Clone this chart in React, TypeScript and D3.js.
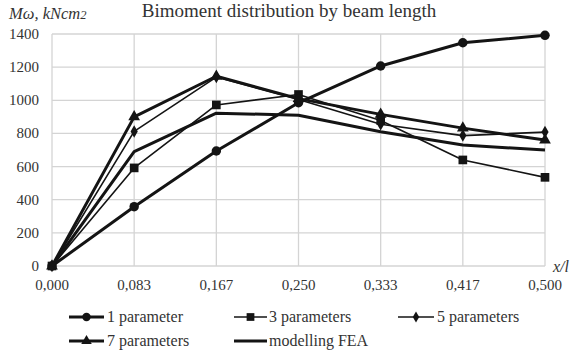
import React from "react";
import * as d3 from "d3";

const categories = ["0,000", "0,083", "0,167", "0,250", "0,333", "0,417", "0,500"];
const yTicks = [0, 200, 400, 600, 800, 1000, 1200, 1400];

const param1 = [0, 358, 694, 985, 1207, 1347, 1392];
const param3 = [0, 592, 972, 1035, 878, 640, 535];
const param5 = [0, 812, 1140, 1005, 855, 787, 808];
const param7 = [0, 900, 1145, 1010, 915, 832, 760];
const fea = [0, 690, 922, 910, 810, 730, 700];

type Marker = "circle" | "square" | "diamond" | "triangle" | "none";
interface Series { name: string; values: number[]; marker: Marker; width: number; }

const series: Series[] = [
  { name: "1 parameter", values: param1, marker: "circle", width: 3 },
  { name: "3 parameters", values: param3, marker: "square", width: 1.6 },
  { name: "5 parameters", values: param5, marker: "diamond", width: 1.6 },
  { name: "7 parameters", values: param7, marker: "triangle", width: 3 },
  { name: "modelling FEA", values: fea, marker: "none", width: 3 },
];

const W = 577, H = 356;
const ink = "#141414";
const font = "'Liberation Serif', 'Times New Roman', serif";

const x = d3.scalePoint<string>().domain(categories).range([52, 545]);
const y = d3.scaleLinear().domain([0, 1400]).range([266, 34]);

function markerPath(m: Marker, scale = 1): string | null {
  const sym = d3.symbol();
  if (m === "circle") return sym.type(d3.symbolCircle).size(70 * scale)();
  if (m === "square") return sym.type(d3.symbolSquare).size(75 * scale)();
  if (m === "diamond") return sym.type(d3.symbolDiamond).size(45 * scale)();
  if (m === "triangle") return sym.type(d3.symbolTriangle).size(60 * scale)();
  return null;
}

const legendItems = [
  { s: series[0], lx: 69, lx2: 104, tx: 107, ty: 322 },
  { s: series[1], lx: 234, lx2: 267, tx: 269, ty: 322 },
  { s: series[2], lx: 398, lx2: 434, tx: 437, ty: 322 },
  { s: series[3], lx: 69, lx2: 104, tx: 107, ty: 346 },
  { s: series[4], lx: 234, lx2: 267, tx: 269, ty: 346 },
];

export default function App() {
  const line = d3
    .line<number>()
    .x((_, i) => x(categories[i]) as number)
    .y((v) => y(v));

  return (
    <svg width={W} height={H} style={{ position: "absolute", left: 0, top: 0, background: "#fff" }}>
      <rect width={W} height={H} fill="#fff" />
      {/* grid */}
      {yTicks.map((t) => (
        <line key={"h" + t} x1={x(categories[0])} x2={x(categories[categories.length - 1])} y1={y(t)} y2={y(t)} stroke="#d4d4d4" strokeWidth={1.3} />
      ))}
      {categories.map((c) => (
        <line key={"v" + c} x1={x(c)} x2={x(c)} y1={y(0)} y2={y(1400)} stroke="#d4d4d4" strokeWidth={1.3} />
      ))}
      {/* y tick labels */}
      {yTicks.map((t) => (
        <text key={"yl" + t} x={39} y={y(t) + 5} textAnchor="end" fontFamily={font} fontSize={15} fill="#333">{t}</text>
      ))}
      {/* x tick labels */}
      {categories.map((c) => (
        <text key={"xl" + c} x={x(c)} y={290} textAnchor="middle" fontFamily={font} fontSize={15} fill="#333">{c}</text>
      ))}
      {/* titles */}
      <text x={289} y={17} textAnchor="middle" fontFamily={font} fontSize={19} fill="#333">Bimoment distribution by beam length</text>
      <text x={9} y={19} fontFamily={font} fontSize={16.5} fontStyle="italic" fill="#333">
        Mω, kNcm<tspan fontSize={12.5}>2</tspan>
      </text>
      <text x={553} y={272} fontFamily={font} fontSize={16} fontStyle="italic" fill="#333">x/l</text>
      {/* series */}
      {series.map((s) => (
        <g key={s.name}>
          <path d={line(s.values) ?? ""} fill="none" stroke={ink} strokeWidth={s.width} strokeLinejoin="round" />
          {s.marker !== "none" &&
            s.values.map((v, i) => (
              <path key={i} d={markerPath(s.marker) ?? ""} transform={`translate(${x(categories[i])},${y(v)})`} fill={ink} />
            ))}
        </g>
      ))}
      {/* legend */}
      {legendItems.map(({ s, lx, lx2, tx, ty }) => (
        <g key={"lg" + s.name}>
          <line x1={lx} x2={lx2} y1={ty - 5} y2={ty - 5} stroke={ink} strokeWidth={s.width} />
          {s.marker !== "none" && (
            <path d={markerPath(s.marker, 0.8) ?? ""} transform={`translate(${(lx + lx2) / 2},${ty - 5})`} fill={ink} />
          )}
          <text x={tx} y={ty} fontFamily={font} fontSize={16} fill="#333">{s.name}</text>
        </g>
      ))}
    </svg>
  );
}
